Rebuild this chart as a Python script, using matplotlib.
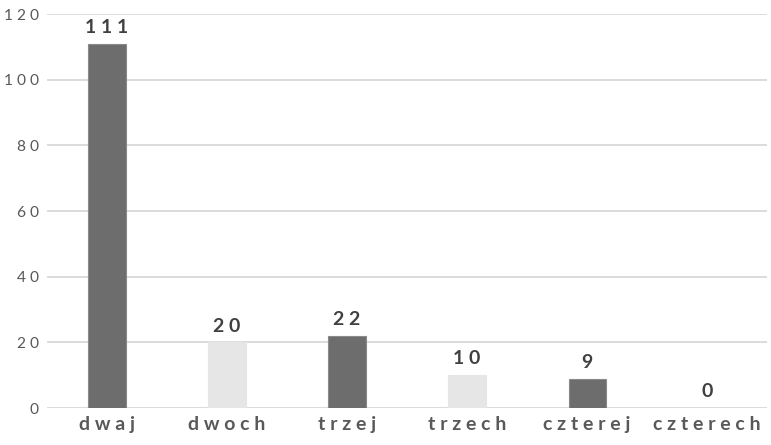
import matplotlib
matplotlib.use("Agg")
import matplotlib.pyplot as plt

categories = ["dwaj", "dwoch", "trzej", "trzech", "czterej", "czterech"]
values = [111, 20, 22, 10, 9, 0]
bar_colors = ["#6d6d6d", "#e6e6e6", "#6d6d6d", "#e6e6e6", "#6d6d6d", "#e6e6e6"]
yticks = [0, 20, 40, 60, 80, 100, 120]

plt.rcParams['font.family'] = ['Lato', 'DejaVu Sans']


def spaced(s, gap=" "):
    """Spread the characters of a label apart."""
    return gap.join(s)


fig = plt.figure(figsize=(7.71, 4.45), dpi=100)
ax = fig.add_axes([0.061, 0.083, 0.934, 0.8855])

x = range(len(categories))
ax.bar(x, values, width=0.31, color=bar_colors,
       edgecolor=["#8a8a8a" if c == "#6d6d6d" else c for c in bar_colors],
       linewidth=0.8, zorder=3)

for xi, v in zip(x, values):
    ax.text(xi, v + 2.4, spaced(str(v)), ha="center", va="bottom",
            fontsize=14, fontweight="bold", color="#404040")

ax.set_xlim(-0.5, len(categories) - 0.5)
ax.set_ylim(0, 120)
ax.set_yticks(yticks)
ax.set_yticklabels([spaced(str(t)) for t in yticks],
                   fontsize=11.2, color="#595959")
ax.set_xticks(list(x))
ax.set_xticklabels([spaced(c) for c in categories], fontsize=14,
                   fontweight="bold", color="#595959")
ax.tick_params(axis="both", length=0)
ax.tick_params(axis="y", pad=6)
ax.tick_params(axis="x", pad=6)

ax.grid(axis="y", color="#d9d9d9", linewidth=1.3, zorder=0)
for s in ax.spines.values():
    s.set_visible(False)

fig.savefig("out.png", dpi=100)
